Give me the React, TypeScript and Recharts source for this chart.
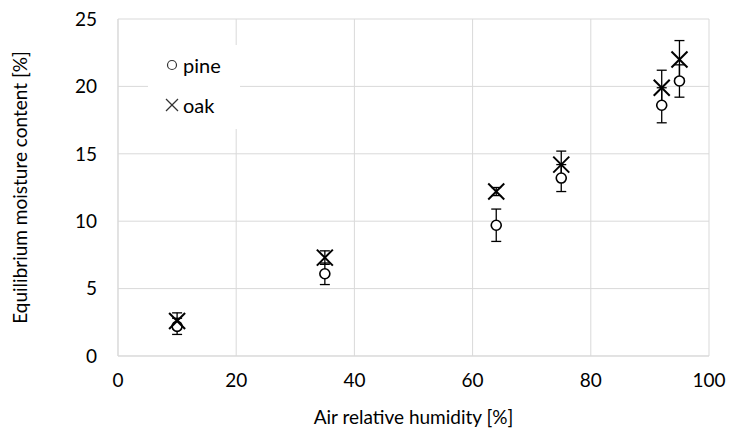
import { ScatterChart, Scatter, XAxis, YAxis, CartesianGrid, ErrorBar, Legend } from 'recharts';

const humidity = [10, 35, 64, 75, 92, 95];
const pineEmc = [2.2, 6.1, 9.7, 13.2, 18.6, 20.4];
const pineErr = [0.6, 0.8, 1.2, 1.0, 1.3, 1.2];
const oakEmc = [2.6, 7.3, 12.2, 14.2, 19.9, 22.0];
const oakErr = [0.6, 0.5, 0.3, 1.0, 1.3, 1.4];
const xTicks = [0, 20, 40, 60, 80, 100];
const yTicks = [0, 5, 10, 15, 20, 25];

const pineData = humidity.map((h, i) => ({ x: h, y: pineEmc[i], err: pineErr[i] }));
const oakData = humidity.map((h, i) => ({ x: h, y: oakEmc[i], err: oakErr[i] }));

const font = 'Lato, "Open Sans", sans-serif';

function Circle(props: any) {
	const { cx, cy } = props;
	return <circle cx={cx} cy={cy} r={5} fill="#fff" stroke="#000" strokeWidth={1.6} />;
}

function Cross(props: any) {
	const { cx, cy } = props;
	const s = 8;
	return (
		<g stroke="#000" strokeWidth={2}>
			<line x1={cx - s} y1={cy - s} x2={cx + s} y2={cy + s} />
			<line x1={cx - s} y1={cy + s} x2={cx + s} y2={cy - s} />
		</g>
	);
}

function LegendBox() {
	return (
		<div style={{ position: 'relative', background: '#fff', width: 92, height: 84, fontFamily: font, fontSize: 20, color: '#000' }}>
			<div style={{ position: 'absolute', left: 17, top: 8, display: 'flex', alignItems: 'center' }}>
				<svg width={14} height={14}>
					<circle cx={7} cy={7} r={4.5} fill="none" stroke="#333" strokeWidth={1.2} />
				</svg>
				<span style={{ marginLeft: 4 }}>pine</span>
			</div>
			<div style={{ position: 'absolute', left: 17, top: 48, display: 'flex', alignItems: 'center' }}>
				<svg width={14} height={14}>
					<line x1={1} y1={1} x2={13} y2={13} stroke="#333" strokeWidth={1.2} />
					<line x1={1} y1={13} x2={13} y2={1} stroke="#333" strokeWidth={1.2} />
				</svg>
				<span style={{ marginLeft: 4 }}>oak</span>
			</div>
		</div>
	);
}

export default function App() {
	const tick = { fontFamily: font, fontSize: 19, fill: '#000' };
	return (
		<div style={{ position: 'absolute', left: 0, top: 0, background: '#fff' }}>
			<ScatterChart width={729} height={434} margin={{ top: 19, right: 20, left: 0, bottom: 20 }}>
				<CartesianGrid stroke="#d9d9d9" strokeWidth={1} />
				<XAxis
					type="number"
					dataKey="x"
					domain={[0, 100]}
					ticks={xTicks}
					tickLine={false}
					axisLine={{ stroke: '#d9d9d9' }}
					tick={tick}
					tickMargin={12}
					height={58}
					label={{ value: 'Air relative humidity [%]', position: 'insideBottom', offset: -10, style: { fontFamily: font, fontSize: 19, fill: '#000' } }}
				/>
				<YAxis
					type="number"
					dataKey="y"
					domain={[0, 25]}
					ticks={yTicks}
					tickLine={false}
					axisLine={{ stroke: '#d9d9d9' }}
					tick={tick}
					tickMargin={15}
					width={118}
					label={{ value: 'Equilibrium moisture content [%]', angle: -90, position: 'insideLeft', offset: 20, style: { fontFamily: font, fontSize: 19, fill: '#000', textAnchor: 'middle' } }}
				/>
				<Legend content={<LegendBox />} wrapperStyle={{ left: 148, top: 45, width: 92 }} layout="horizontal" verticalAlign="middle" align="center" />
				<Scatter name="pine" data={pineData} shape={<Circle />} isAnimationActive={false}>
					<ErrorBar dataKey="err" direction="y" width={5} stroke="#000" strokeWidth={1.3} />
				</Scatter>
				<Scatter name="oak" data={oakData} shape={<Cross />} isAnimationActive={false}>
					<ErrorBar dataKey="err" direction="y" width={5} stroke="#000" strokeWidth={1.3} />
				</Scatter>
			</ScatterChart>
		</div>
	);
}
